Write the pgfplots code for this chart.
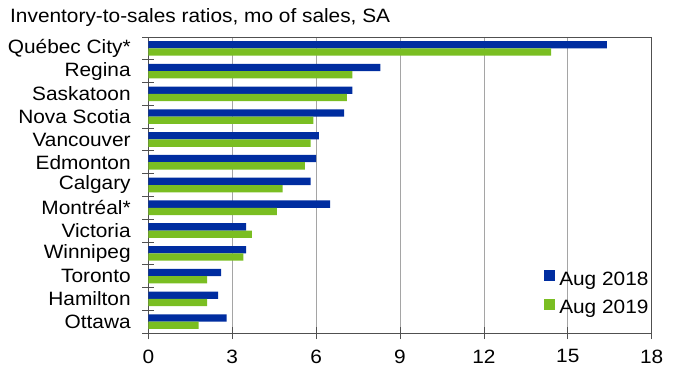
\documentclass[border=0pt]{standalone}
\usepackage{fontspec}
\setmainfont[FakeStretch=1.08]{Liberation Sans}
\usepackage{pgfplots}
\pgfplotsset{compat=1.18}
\definecolor{barblue}{RGB}{0,45,160}
\definecolor{bargreen}{RGB}{122,190,34}
\definecolor{axgray}{RGB}{80,80,80}
\definecolor{gridgray}{RGB}{165,165,165}
\begin{document}
\fontsize{19.3}{22}\selectfont
\begin{tikzpicture}
\begin{axis}[
  at={(0,0)}, anchor=south west,
  scale only axis, width=503.4pt, height=296pt,
  xbar, bar width=7.3pt,
  xmin=0, xmax=18, xtick={0,3,...,18},
  ymin=-0.5, ymax=12.5, y dir=reverse,
  ytick={0,...,12},
  yticklabels={Québec City*, Regina, Saskatoon, Nova Scotia, Vancouver, Edmonton, Calgary, Montréal*, Victoria, Winnipeg, Toronto, Hamilton, Ottawa},
  minor ytick={-0.5,0.5,...,12.5},
  major y tick style={draw=none},
  minor y tick style={draw=axgray, line width=0.8pt},
  minor tick length=12pt,
  major tick length=12pt,
  tick align=center,
  x tick style={draw=axgray, line width=0.8pt},
  xtick pos=bottom, ytick pos=left,
  xmajorgrids, grid style={gridgray, line width=0.8pt},
  axis line style={draw=axgray, line width=0.9pt},
  /pgf/number format/assume math mode=true,
  tick label style={font=\fontsize{19.3}{22}\selectfont},
  yticklabel style={anchor=east, xshift=-5pt},
  xticklabel style={yshift=-4pt},
  legend style={draw=none, fill=none, at={(1,0)}, anchor=south east, xshift=-2pt, yshift=15pt,
    font=\fontsize{19.3}{22}\selectfont, row sep=9pt, inner sep=0pt,
    nodes={inner sep=1pt}},
  legend cell align=left,
  legend image code/.code={\fill[#1] (0pt,-1pt) rectangle (11pt,10pt); \path (14pt,0pt);},
]
\addplot[fill=barblue, draw=none, bar shift=3.65pt] coordinates {
(16.4,0) (8.3,1) (7.3,2) (7.0,3) (6.1,4) (6.0,5) (5.8,6) (6.5,7) (3.5,8) (3.5,9) (2.6,10) (2.5,11) (2.8,12)};
\addlegendentry{Aug 2018}
\addplot[fill=bargreen, draw=none, bar shift=-3.65pt] coordinates {
(14.4,0) (7.3,1) (7.1,2) (5.9,3) (5.8,4) (5.6,5) (4.8,6) (4.6,7) (3.7,8) (3.4,9) (2.1,10) (2.1,11) (1.8,12)};
\addlegendentry{Aug 2019}
\end{axis}
\node[anchor=base west, inner sep=0pt] at (-138.3pt,310.3pt) {Inventory-to-sales ratios, mo of sales, SA};
\pgfresetboundingbox
\path[use as bounding box] (-148.3pt,-36pt) rectangle (531.7pt,333pt);
\end{tikzpicture}
\end{document}
